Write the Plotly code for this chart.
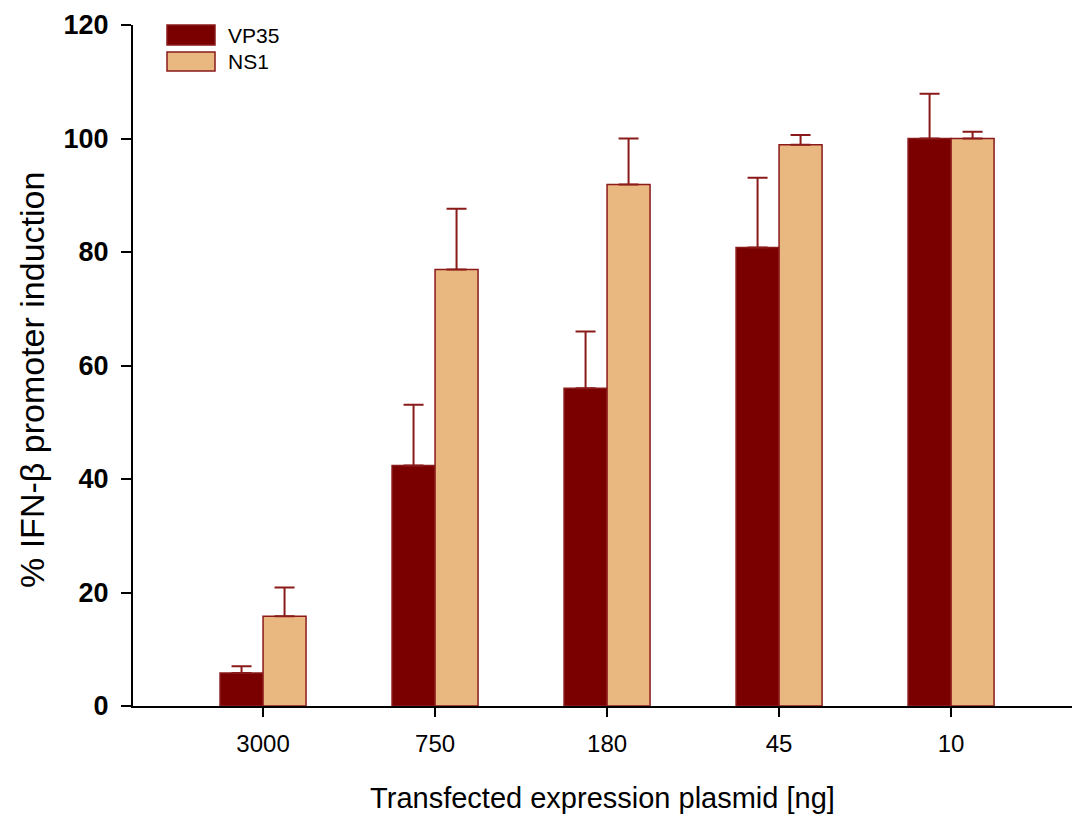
import plotly.graph_objects as go

categories = ["3000", "750", "180", "45", "10"]
vp35 = [5.8, 42.4, 56.0, 80.8, 100.0]
vp35_err = [1.2, 10.7, 10.0, 12.3, 7.9]
ns1 = [15.8, 76.9, 91.9, 98.9, 100.0]
ns1_err = [5.1, 10.7, 8.1, 1.7, 1.2]
series_names = ["VP35", "NS1"]
y_ticks = [0, 20, 40, 60, 80, 100, 120]

W, H = 1072, 817
L, R, T, B = 133, 0, 25, 111

DARK = "#7A0000"
LIGHT = "#E8B880"
EDGE = "#8B1A1A"
FONT = "Liberation Sans, Arial, sans-serif"

fig = go.Figure()
fig.add_trace(go.Bar(
    x=categories, y=vp35, name=series_names[0],
    marker=dict(color=DARK, line=dict(color=EDGE, width=1.5)),
    error_y=dict(type="data", array=vp35_err, arrayminus=[0]*5, symmetric=False,
                 color=EDGE, thickness=2, width=10),
))
fig.add_trace(go.Bar(
    x=categories, y=ns1, name=series_names[1],
    marker=dict(color=LIGHT, line=dict(color=EDGE, width=1.5)),
    error_y=dict(type="data", array=ns1_err, arrayminus=[0]*5, symmetric=False,
                 color=EDGE, thickness=2, width=10),
))

def px(xp):
    return (xp - L) / (W - L - R)

def py(yp):
    return (H - B - yp) / (H - T - B)

# legend drawn as boxes + labels
legend_items = [(series_names[0], DARK, 25, 45), (series_names[1], LIGHT, 52, 71)]
for name, col, y0, y1 in legend_items:
    fig.add_shape(type="rect", xref="paper", yref="paper",
                  x0=px(167), x1=px(215), y0=py(y1), y1=py(y0),
                  fillcolor=col, line=dict(color=EDGE, width=1.5))
    fig.add_annotation(xref="paper", yref="paper", x=px(226), y=py((y0 + y1) / 2),
                       text=name, showarrow=False, xanchor="left", yanchor="middle",
                       font=dict(family=FONT, size=21, color="black"))

# y-axis title
fig.add_annotation(xref="paper", yref="paper", x=px(32), y=py(380),
                   text="% IFN-β promoter induction", textangle=-90, showarrow=False,
                   xanchor="center", yanchor="middle",
                   font=dict(family=FONT, size=34, color="black"))

fig.update_layout(
    width=W, height=H,
    margin=dict(l=L, r=R, t=T, b=B, pad=0),
    paper_bgcolor="white", plot_bgcolor="white",
    barmode="group", bargap=0.5, bargroupgap=0,
    showlegend=False,
    font=dict(family=FONT, color="black"),
    xaxis=dict(
        type="category", range=[-0.756, 4.703],
        showline=True, linecolor="black", linewidth=2,
        ticks="outside", ticklen=9, tickwidth=1.5, tickcolor="black",
        tickfont=dict(size=24, family=FONT), ticklabelstandoff=6,
        title=dict(text="Transfected expression plasmid [ng]",
                   font=dict(size=29, family=FONT), standoff=32),
        showgrid=False, zeroline=False,
    ),
    yaxis=dict(
        range=[0, 120], tickvals=y_ticks,
        showline=True, linecolor="black", linewidth=2,
        ticks="outside", ticklen=10, tickwidth=1.5, tickcolor="black",
        tickfont=dict(size=27, family=FONT, weight="bold"), ticklabelstandoff=7,
        showgrid=False, zeroline=False,
    ),
)

fig.write_html("out.html")
